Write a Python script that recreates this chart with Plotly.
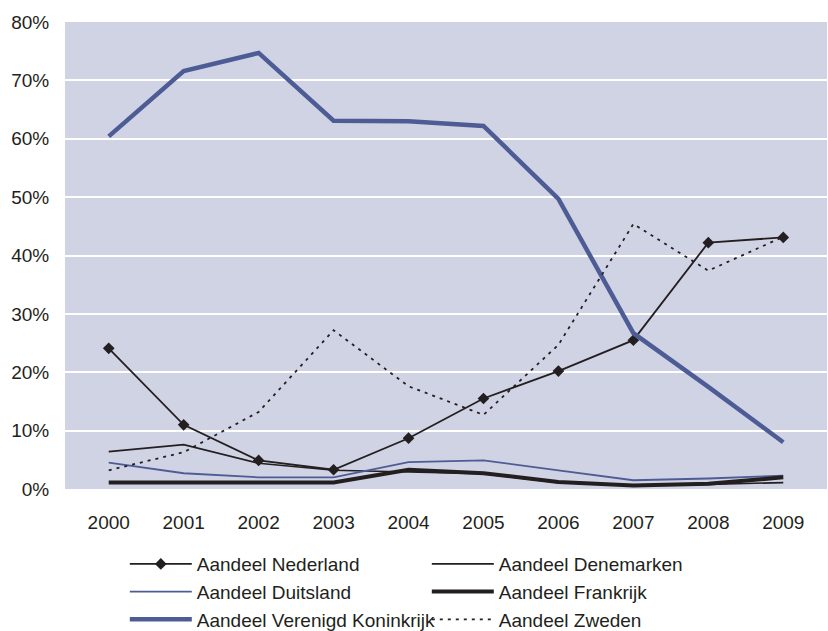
import plotly.graph_objects as go

years = ["2000", "2001", "2002", "2003", "2004", "2005", "2006", "2007", "2008", "2009"]

# Shares per country (fraction of total)
nederland = [0.241, 0.110, 0.049, 0.033, 0.087, 0.155, 0.202, 0.255, 0.422, 0.431]
denemarken = [0.064, 0.076, 0.044, 0.032, 0.029, 0.026, 0.011, 0.006, 0.008, 0.011]
duitsland = [0.045, 0.027, 0.020, 0.020, 0.046, 0.049, 0.032, 0.015, 0.018, 0.023]
frankrijk = [0.011, 0.011, 0.011, 0.011, 0.033, 0.027, 0.012, 0.006, 0.009, 0.020]
verenigd_koninkrijk = [0.604, 0.716, 0.747, 0.631, 0.630, 0.622, 0.497, 0.267, 0.175, 0.080]
zweden = [0.032, 0.063, 0.132, 0.272, 0.176, 0.127, 0.247, 0.454, 0.374, 0.432]

ink = "#231F20"
blue = "#4E5C95"

fig = go.Figure()
fig.add_trace(go.Scatter(x=years, y=nederland, name="Aandeel Nederland", mode="lines+markers",
                         line=dict(color=ink, width=1.8),
                         marker=dict(symbol="diamond", size=9, color=ink)))
fig.add_trace(go.Scatter(x=years, y=denemarken, name="Aandeel Denemarken", mode="lines",
                         line=dict(color=ink, width=1.6)))
fig.add_trace(go.Scatter(x=years, y=duitsland, name="Aandeel Duitsland", mode="lines",
                         line=dict(color=blue, width=1.8)))
fig.add_trace(go.Scatter(x=years, y=frankrijk, name="Aandeel Frankrijk", mode="lines",
                         line=dict(color=ink, width=4)))
fig.add_trace(go.Scatter(x=years, y=verenigd_koninkrijk, name="Aandeel Verenigd Koninkrijk", mode="lines",
                         line=dict(color=blue, width=4.5)))
fig.add_trace(go.Scatter(x=years, y=zweden, name="Aandeel Zweden", mode="lines",
                         line=dict(color=ink, width=1.8, dash="3px,5px")))

fig.update_layout(
    width=828, height=631,
    margin=dict(l=65, r=1, t=22, b=142, autoexpand=False),
    paper_bgcolor="white",
    plot_bgcolor="#D0D3E4",
    font=dict(family="Liberation Sans, Arial, sans-serif", size=19, color=ink),
    showlegend=True,
    legend=dict(
        orientation="h", x=0.0785, xanchor="left", y=-0.12, yanchor="top",
        entrywidth=225, entrywidthmode="pixels", itemwidth=62,
        font=dict(size=19, color=ink), tracegroupgap=0,
        bgcolor="rgba(0,0,0,0)",
    ),
)
fig.update_xaxes(
    type="category", showgrid=False, zeroline=False, showline=False,
    ticks="outside", ticklen=16, tickcolor="rgba(0,0,0,0)",
    tickfont=dict(size=19),
)
fig.update_yaxes(
    range=[0, 0.8], dtick=0.1, tickformat=".0%",
    showgrid=True, gridcolor="white", gridwidth=2,
    zeroline=False, showline=False,
    ticks="outside", ticklen=11, tickcolor="rgba(0,0,0,0)",
    tickfont=dict(size=19),
)

fig.write_html("out.html")
